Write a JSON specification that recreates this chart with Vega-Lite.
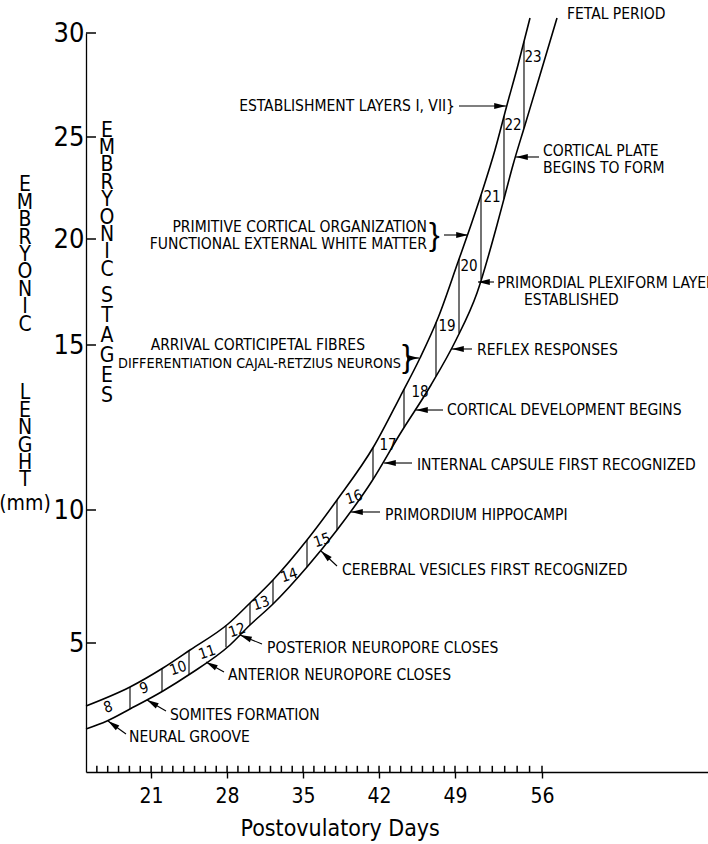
{
  "$schema": "https://vega.github.io/schema/vega-lite/v6.json",
  "width": 622,
  "height": 739,
  "autosize": {"type": "none"},
  "padding": {"left": 86, "top": 33, "right": 0, "bottom": 72},
  "background": "white",
  "config": {"view": {"stroke": null}, "font": "Liberation Sans Narrow, DejaVu Sans Condensed, Liberation Sans, sans-serif"},
  "datasets": {
    "curves": [
      {"curve": "upper", "day": 15, "mm": 2.558},
      {"curve": "upper", "day": 19.054, "mm": 3.295},
      {"curve": "upper", "day": 22.095, "mm": 4.031},
      {"curve": "upper", "day": 24.583, "mm": 4.729},
      {"curve": "upper", "day": 28.084, "mm": 5.714},
      {"curve": "upper", "day": 30.111, "mm": 6.504},
      {"curve": "upper", "day": 32.23, "mm": 7.368},
      {"curve": "upper", "day": 35.363, "mm": 8.872},
      {"curve": "upper", "day": 38.127, "mm": 10.303},
      {"curve": "upper", "day": 41.537, "mm": 11.939},
      {"curve": "upper", "day": 43.932, "mm": 13.424},
      {"curve": "upper", "day": 45.775, "mm": 14.606},
      {"curve": "upper", "day": 47.434, "mm": 16.274},
      {"curve": "upper", "day": 49.241, "mm": 18.915},
      {"curve": "upper", "day": 50.368, "mm": 20.833},
      {"curve": "upper", "day": 51.172, "mm": 22.304},
      {"curve": "upper", "day": 52.218, "mm": 24.363},
      {"curve": "upper", "day": 53.183, "mm": 26.538},
      {"curve": "upper", "day": 54.068, "mm": 28.462},
      {"curve": "upper", "day": 55.034, "mm": 30.721},
      {"curve": "lower", "day": 15, "mm": 1.667},
      {"curve": "lower", "day": 16.935, "mm": 1.977},
      {"curve": "lower", "day": 19.054, "mm": 2.442},
      {"curve": "lower", "day": 22.095, "mm": 3.14},
      {"curve": "lower", "day": 24.583, "mm": 3.798},
      {"curve": "lower", "day": 28.268, "mm": 4.922},
      {"curve": "lower", "day": 30.111, "mm": 5.677},
      {"curve": "lower", "day": 32.23, "mm": 6.466},
      {"curve": "lower", "day": 35.363, "mm": 7.857},
      {"curve": "lower", "day": 38.127, "mm": 9.248},
      {"curve": "lower", "day": 41.352, "mm": 10.879},
      {"curve": "lower", "day": 43.932, "mm": 12.303},
      {"curve": "lower", "day": 46.788, "mm": 13.788},
      {"curve": "lower", "day": 49.08, "mm": 15.236},
      {"curve": "lower", "day": 50.77, "mm": 17.453},
      {"curve": "lower", "day": 52.379, "mm": 20.686},
      {"curve": "lower", "day": 53.023, "mm": 22.157},
      {"curve": "lower", "day": 53.666, "mm": 23.627},
      {"curve": "lower", "day": 54.632, "mm": 25.577},
      {"curve": "lower", "day": 55.839, "mm": 27.981},
      {"curve": "lower", "day": 57.382, "mm": 30.721}
    ],
    "dividers": [
      {"day": 19.054, "top": 3.295, "bottom": 2.442},
      {"day": 22.003, "top": 4.008, "bottom": 3.12},
      {"day": 24.491, "top": 4.702, "bottom": 3.775},
      {"day": 27.899, "top": 5.662, "bottom": 4.837},
      {"day": 30.111, "top": 6.504, "bottom": 5.677},
      {"day": 32.23, "top": 7.368, "bottom": 6.466},
      {"day": 35.363, "top": 8.872, "bottom": 7.857},
      {"day": 38.127, "top": 10.303, "bottom": 9.248},
      {"day": 41.444, "top": 11.894, "bottom": 10.93},
      {"day": 44.301, "top": 13.661, "bottom": 12.494},
      {"day": 47.249, "top": 16.066, "bottom": 14.061},
      {"day": 49.322, "top": 19.052, "bottom": 15.552},
      {"day": 51.092, "top": 22.157, "bottom": 18.094},
      {"day": 52.942, "top": 25.998, "bottom": 21.973},
      {"day": 54.551, "top": 29.591, "bottom": 25.418}
    ],
    "dayTicks": [
      {"day": 16, "low": 0, "high": 0.24}, {"day": 17, "low": 0, "high": 0.24}, {"day": 18, "low": 0, "high": 0.24}, {"day": 19, "low": 0, "high": 0.24},
      {"day": 20, "low": 0, "high": 0.24}, {"day": 21, "low": 0, "high": 0.24}, {"day": 22, "low": 0, "high": 0.24}, {"day": 23, "low": 0, "high": 0.24},
      {"day": 24, "low": 0, "high": 0.24}, {"day": 25, "low": 0, "high": 0.24}, {"day": 26, "low": 0, "high": 0.24}, {"day": 27, "low": 0, "high": 0.24},
      {"day": 28, "low": 0, "high": 0.24}, {"day": 29, "low": 0, "high": 0.24}, {"day": 30, "low": 0, "high": 0.24}, {"day": 31, "low": 0, "high": 0.24},
      {"day": 32, "low": 0, "high": 0.24}, {"day": 33, "low": 0, "high": 0.24}, {"day": 34, "low": 0, "high": 0.24}, {"day": 35, "low": 0, "high": 0.24},
      {"day": 36, "low": 0, "high": 0.24}, {"day": 37, "low": 0, "high": 0.24}, {"day": 38, "low": 0, "high": 0.24}, {"day": 39, "low": 0, "high": 0.24},
      {"day": 40, "low": 0, "high": 0.24}, {"day": 41, "low": 0, "high": 0.24}, {"day": 42, "low": 0, "high": 0.24}, {"day": 43, "low": 0, "high": 0.24},
      {"day": 44, "low": 0, "high": 0.24}, {"day": 45, "low": 0, "high": 0.24}, {"day": 46, "low": 0, "high": 0.24}, {"day": 47, "low": 0, "high": 0.24},
      {"day": 48, "low": 0, "high": 0.24}, {"day": 49, "low": 0, "high": 0.24}, {"day": 50, "low": 0, "high": 0.24}, {"day": 51, "low": 0, "high": 0.24},
      {"day": 52, "low": 0, "high": 0.24}, {"day": 53, "low": 0, "high": 0.24}, {"day": 54, "low": 0, "high": 0.24}, {"day": 55, "low": 0, "high": 0.24},
      {"day": 56, "low": 0, "high": 0.24}
    ],
    "mmTicks": [
      {"mm": 5, "from": 15, "to": 15.92}, {"mm": 10, "from": 15, "to": 15.92}, {"mm": 15, "from": 15, "to": 15.92},
      {"mm": 20, "from": 15, "to": 15.92}, {"mm": 25, "from": 15, "to": 15.92}, {"mm": 30, "from": 15, "to": 15.92}
    ],
    "stages": [
      {"stage": 8, "day": 17.027, "mm": 2.519},
      {"stage": 9, "day": 20.344, "mm": 3.256},
      {"stage": 10, "day": 23.477, "mm": 4.031},
      {"stage": 11, "day": 26.149, "mm": 4.651},
      {"stage": 12, "day": 28.913, "mm": 5.489},
      {"stage": 13, "day": 31.125, "mm": 6.504},
      {"stage": 14, "day": 33.705, "mm": 7.556},
      {"stage": 15, "day": 36.745, "mm": 8.872},
      {"stage": 16, "day": 39.693, "mm": 10.394},
      {"stage": 17, "day": 42.826, "mm": 11.97},
      {"stage": 18, "day": 45.775, "mm": 13.576},
      {"stage": 19, "day": 48.263, "mm": 15.896},
      {"stage": 20, "day": 50.126, "mm": 18.726},
      {"stage": 21, "day": 51.977, "mm": 22.059},
      {"stage": 22, "day": 53.666, "mm": 25.577},
      {"stage": 23, "day": 55.275, "mm": 28.846}
    ],
    "notesLeft": [
      {"note": "FETAL PERIOD", "day": 58.303, "mm": 30.913},
      {"note": "CORTICAL PLATE", "day": 56.092, "mm": 24.314},
      {"note": "BEGINS TO FORM", "day": 56.092, "mm": 23.48},
      {"note": "PRIMORDIAL PLEXIFORM LAYER", "day": 52.379, "mm": 17.925},
      {"note": "ESTABLISHED", "day": 54.551, "mm": 17.123},
      {"note": "REFLEX RESPONSES", "day": 50.77, "mm": 14.848},
      {"note": "CORTICAL DEVELOPMENT BEGINS", "day": 48.263, "mm": 13.03},
      {"note": "INTERNAL CAPSULE FIRST RECOGNIZED", "day": 45.498, "mm": 11.364},
      {"note": "PRIMORDIUM HIPPOCAMPI", "day": 42.55, "mm": 9.812},
      {"note": "CEREBRAL VESICLES FIRST RECOGNIZED", "day": 38.588, "mm": 7.744},
      {"note": "POSTERIOR NEUROPORE CLOSES", "day": 31.678, "mm": 4.806},
      {"note": "ANTERIOR NEUROPORE CLOSES", "day": 28.084, "mm": 3.76},
      {"note": "SOMITES FORMATION", "day": 22.74, "mm": 2.209},
      {"note": "NEURAL GROOVE", "day": 18.962, "mm": 1.357}
    ],
    "notesRight": [
      {"note": "ESTABLISHMENT LAYERS I, VII}", "day": 49.0, "mm": 26.49},
      {"note": "PRIMITIVE CORTICAL ORGANIZATION", "day": 46.42, "mm": 20.588},
      {"note": "FUNCTIONAL EXTERNAL WHITE MATTER", "day": 46.42, "mm": 19.764},
      {"note": "ARRIVAL CORTICIPETAL FIBRES", "day": 40.707, "mm": 15.0}
    ],
    "notesRightNarrow": [
      {"note": "DIFFERENTIATION CAJAL-RETZIUS NEURONS", "day": 44.024, "mm": 14.424}
    ],
    "braces": [
      {"brace": "}", "day": 46.605, "mm": 20.196},
      {"brace": "}", "day": 44.116, "mm": 14.636}
    ],
    "arrows": [
      {"day": 53.103, "mm": 26.49, "tailDay": 49.322, "tailMm": 26.49, "heading": 180},
      {"day": 53.907, "mm": 24.02, "tailDay": 55.758, "tailMm": 24.02, "heading": 0},
      {"day": 50.046, "mm": 20.196, "tailDay": 47.986, "tailMm": 20.196, "heading": 180},
      {"day": 50.85, "mm": 17.972, "tailDay": 52.138, "tailMm": 17.972, "heading": 0},
      {"day": 48.723, "mm": 14.879, "tailDay": 50.368, "tailMm": 14.879, "heading": 0},
      {"day": 45.406, "mm": 13.03, "tailDay": 47.894, "tailMm": 13.03, "heading": 0},
      {"day": 42.458, "mm": 11.424, "tailDay": 45.038, "tailMm": 11.424, "heading": 0},
      {"day": 39.417, "mm": 9.925, "tailDay": 42.089, "tailMm": 9.925, "heading": 0},
      {"day": 45.682, "mm": 14.606, "tailDay": 44.853, "tailMm": 14.606, "heading": 180},
      {"day": 36.653, "mm": 8.459, "tailDay": 38.127, "tailMm": 7.895, "heading": 43},
      {"day": 29.19, "mm": 5.301, "tailDay": 31.217, "tailMm": 4.961, "heading": 22},
      {"day": 26.057, "mm": 4.264, "tailDay": 27.715, "tailMm": 3.876, "heading": 29},
      {"day": 20.621, "mm": 2.791, "tailDay": 22.371, "tailMm": 2.364, "heading": 30},
      {"day": 17.027, "mm": 1.977, "tailDay": 18.686, "tailMm": 1.473, "heading": 36}
    ],
    "vlabels": [
      {"t": "E\nM\nB\nR\nY\nO\nN\nI\nC", "day": 9.379, "mm": 23.162},
      {"t": "L\nE\nN\nG\nH\nT", "day": 9.379, "mm": 13.864},
      {"t": "(mm)", "day": 9.379, "mm": 10.515},
      {"t": "E\nM\nB\nR\nY\nO\nN\nI\nC", "day": 16.935, "mm": 25.841}
    ],
    "vlabels2": [
      {"t": "S\nT\nA\nG\nE\nS", "day": 16.935, "mm": 17.807}
    ]
  },
  "layer": [
    {
      "data": {"name": "curves"},
      "mark": {"type": "line", "interpolate": "monotone", "color": "black", "strokeWidth": 1.6},
      "encoding": {
        "x": {"field": "day", "type": "quantitative",
          "scale": {"type": "linear", "domain": [15, 49, 56, 71.3], "range": [0, 369, 456, 622], "nice": false, "zero": false},
          "axis": {"orient": "bottom", "values": [21, 28, 35, 42, 49, 56], "tickSize": 6, "tickWidth": 1.4, "tickColor": "black", "domainColor": "black", "domainWidth": 1.3, "labelFontSize": 21, "labelColor": "black", "labelPadding": 7, "labelFlush": false, "grid": false, "title": "Postovulatory Days", "titleFontSize": 23, "titleFontWeight": "normal", "titleColor": "black", "titleX": 154, "titleY": 63, "titleAlign": "left", "titleBaseline": "alphabetic", "offset": 0}},
        "y": {"field": "mm", "type": "quantitative",
          "scale": {"type": "linear", "domain": [0, 5, 10, 15, 20, 25, 30], "range": [739, 610, 477, 312, 206, 104, 0], "nice": false, "zero": false},
          "axis": {"orient": "left", "values": [5, 10, 15, 20, 25, 30], "ticks": false, "labelPadding": 2, "labelFontSize": 27, "labelColor": "black", "domainColor": "black", "domainWidth": 1.3, "grid": false, "title": null, "labelFlush": false, "offset": 0}},
        "detail": {"field": "curve", "type": "nominal"}
      }
    },
    {
      "data": {"name": "dividers"},
      "mark": {"type": "rule", "color": "black", "strokeWidth": 1.1},
      "encoding": {
        "x": {"field": "day", "type": "quantitative", "scale": {"type": "linear", "domain": [15, 49, 56, 71.3], "range": [0, 369, 456, 622], "nice": false, "zero": false}, "axis": null},
        "y": {"field": "top", "type": "quantitative", "scale": {"type": "linear", "domain": [0, 5, 10, 15, 20, 25, 30], "range": [739, 610, 477, 312, 206, 104, 0], "nice": false, "zero": false}, "axis": null},
        "y2": {"field": "bottom"}
      }
    },
    {
      "data": {"name": "dayTicks"},
      "mark": {"type": "rule", "color": "black", "strokeWidth": 1.5, "opacity": 1},
      "encoding": {
        "x": {"field": "day", "type": "quantitative", "scale": {"type": "linear", "domain": [15, 49, 56, 71.3], "range": [0, 369, 456, 622], "nice": false, "zero": false}, "axis": null},
        "y": {"field": "low", "type": "quantitative", "scale": {"type": "linear", "domain": [0, 5, 10, 15, 20, 25, 30], "range": [739, 610, 477, 312, 206, 104, 0], "nice": false, "zero": false}, "axis": null},
        "y2": {"field": "high"}
      }
    },
    {
      "data": {"name": "mmTicks"},
      "mark": {"type": "rule", "color": "black", "strokeWidth": 1.5, "opacity": 1},
      "encoding": {
        "x": {"field": "from", "type": "quantitative", "scale": {"type": "linear", "domain": [15, 49, 56, 71.3], "range": [0, 369, 456, 622], "nice": false, "zero": false}, "axis": null},
        "x2": {"field": "to"},
        "y": {"field": "mm", "type": "quantitative", "scale": {"type": "linear", "domain": [0, 5, 10, 15, 20, 25, 30], "range": [739, 610, 477, 312, 206, 104, 0], "nice": false, "zero": false}, "axis": null}
      }
    },
    {
      "data": {"name": "stages"},
      "transform": [{"filter": "datum.stage <= 16"}],
      "mark": {"type": "text", "fontSize": 15, "angle": 342, "color": "black", "fill": "black", "align": "center", "baseline": "middle"},
      "encoding": {
        "x": {"field": "day", "type": "quantitative", "scale": {"type": "linear", "domain": [15, 49, 56, 71.3], "range": [0, 369, 456, 622], "nice": false, "zero": false}, "axis": null},
        "y": {"field": "mm", "type": "quantitative", "scale": {"type": "linear", "domain": [0, 5, 10, 15, 20, 25, 30], "range": [739, 610, 477, 312, 206, 104, 0], "nice": false, "zero": false}, "axis": null},
        "text": {"field": "stage", "type": "nominal"}
      }
    },
    {
      "data": {"name": "stages"},
      "transform": [{"filter": "datum.stage > 16"}],
      "mark": {"type": "text", "fontSize": 15, "color": "black", "fill": "black", "align": "center", "baseline": "middle"},
      "encoding": {
        "x": {"field": "day", "type": "quantitative", "scale": {"type": "linear", "domain": [15, 49, 56, 71.3], "range": [0, 369, 456, 622], "nice": false, "zero": false}, "axis": null},
        "y": {"field": "mm", "type": "quantitative", "scale": {"type": "linear", "domain": [0, 5, 10, 15, 20, 25, 30], "range": [739, 610, 477, 312, 206, 104, 0], "nice": false, "zero": false}, "axis": null},
        "text": {"field": "stage", "type": "nominal"}
      }
    },
    {
      "data": {"name": "notesLeft"},
      "mark": {"type": "text", "fontSize": 15.5, "fill": "black", "align": "left", "baseline": "middle"},
      "encoding": {
        "x": {"field": "day", "type": "quantitative", "scale": {"type": "linear", "domain": [15, 49, 56, 71.3], "range": [0, 369, 456, 622], "nice": false, "zero": false}, "axis": null},
        "y": {"field": "mm", "type": "quantitative", "scale": {"type": "linear", "domain": [0, 5, 10, 15, 20, 25, 30], "range": [739, 610, 477, 312, 206, 104, 0], "nice": false, "zero": false}, "axis": null},
        "text": {"field": "note", "type": "nominal"}
      }
    },
    {
      "data": {"name": "notesRight"},
      "mark": {"type": "text", "fontSize": 15.5, "fill": "black", "align": "right", "baseline": "middle"},
      "encoding": {
        "x": {"field": "day", "type": "quantitative", "scale": {"type": "linear", "domain": [15, 49, 56, 71.3], "range": [0, 369, 456, 622], "nice": false, "zero": false}, "axis": null},
        "y": {"field": "mm", "type": "quantitative", "scale": {"type": "linear", "domain": [0, 5, 10, 15, 20, 25, 30], "range": [739, 610, 477, 312, 206, 104, 0], "nice": false, "zero": false}, "axis": null},
        "text": {"field": "note", "type": "nominal"}
      }
    },
    {
      "data": {"name": "notesRightNarrow"},
      "mark": {"type": "text", "fontSize": 14.3, "fill": "black", "align": "right", "baseline": "middle"},
      "encoding": {
        "x": {"field": "day", "type": "quantitative", "scale": {"type": "linear", "domain": [15, 49, 56, 71.3], "range": [0, 369, 456, 622], "nice": false, "zero": false}, "axis": null},
        "y": {"field": "mm", "type": "quantitative", "scale": {"type": "linear", "domain": [0, 5, 10, 15, 20, 25, 30], "range": [739, 610, 477, 312, 206, 104, 0], "nice": false, "zero": false}, "axis": null},
        "text": {"field": "note", "type": "nominal"}
      }
    },
    {
      "data": {"name": "braces"},
      "mark": {"type": "text", "fontSize": 32, "fill": "black", "align": "left", "baseline": "middle", "font": "Liberation Sans"},
      "encoding": {
        "x": {"field": "day", "type": "quantitative", "scale": {"type": "linear", "domain": [15, 49, 56, 71.3], "range": [0, 369, 456, 622], "nice": false, "zero": false}, "axis": null},
        "y": {"field": "mm", "type": "quantitative", "scale": {"type": "linear", "domain": [0, 5, 10, 15, 20, 25, 30], "range": [739, 610, 477, 312, 206, 104, 0], "nice": false, "zero": false}, "axis": null},
        "text": {"field": "brace", "type": "nominal"}
      }
    },
    {
      "data": {"name": "arrows"},
      "mark": {"type": "rule", "color": "black", "strokeWidth": 1.1},
      "encoding": {
        "x": {"field": "day", "type": "quantitative", "scale": {"type": "linear", "domain": [15, 49, 56, 71.3], "range": [0, 369, 456, 622], "nice": false, "zero": false}, "axis": null},
        "y": {"field": "mm", "type": "quantitative", "scale": {"type": "linear", "domain": [0, 5, 10, 15, 20, 25, 30], "range": [739, 610, 477, 312, 206, 104, 0], "nice": false, "zero": false}, "axis": null},
        "x2": {"field": "tailDay"},
        "y2": {"field": "tailMm"}
      }
    },
    {
      "data": {"name": "arrows"},
      "mark": {"type": "point", "shape": "M0,0L2,-0.5L2,0.5Z", "filled": true, "color": "black", "opacity": 1, "size": 140, "strokeWidth": 0},
      "encoding": {
        "x": {"field": "day", "type": "quantitative", "scale": {"type": "linear", "domain": [15, 49, 56, 71.3], "range": [0, 369, 456, 622], "nice": false, "zero": false}, "axis": null},
        "y": {"field": "mm", "type": "quantitative", "scale": {"type": "linear", "domain": [0, 5, 10, 15, 20, 25, 30], "range": [739, 610, 477, 312, 206, 104, 0], "nice": false, "zero": false}, "axis": null},
        "angle": {"field": "heading", "type": "quantitative", "scale": null}
      }
    },
    {
      "data": {"name": "vlabels"},
      "mark": {"type": "text", "fontSize": 21, "fill": "black", "align": "center", "baseline": "top", "lineBreak": "\n", "lineHeight": 17.4},
      "encoding": {
        "x": {"field": "day", "type": "quantitative", "scale": {"type": "linear", "domain": [15, 49, 56, 71.3], "range": [0, 369, 456, 622], "nice": false, "zero": false}, "axis": null},
        "y": {"field": "mm", "type": "quantitative", "scale": {"type": "linear", "domain": [0, 5, 10, 15, 20, 25, 30], "range": [739, 610, 477, 312, 206, 104, 0], "nice": false, "zero": false}, "axis": null},
        "text": {"field": "t", "type": "nominal"}
      }
    },
    {
      "data": {"name": "vlabels2"},
      "mark": {"type": "text", "fontSize": 21, "fill": "black", "align": "center", "baseline": "top", "lineBreak": "\n", "lineHeight": 20},
      "encoding": {
        "x": {"field": "day", "type": "quantitative", "scale": {"type": "linear", "domain": [15, 49, 56, 71.3], "range": [0, 369, 456, 622], "nice": false, "zero": false}, "axis": null},
        "y": {"field": "mm", "type": "quantitative", "scale": {"type": "linear", "domain": [0, 5, 10, 15, 20, 25, 30], "range": [739, 610, 477, 312, 206, 104, 0], "nice": false, "zero": false}, "axis": null},
        "text": {"field": "t", "type": "nominal"}
      }
    }
  ],
  "resolve": {"axis": {"x": "independent", "y": "independent"}}
}
